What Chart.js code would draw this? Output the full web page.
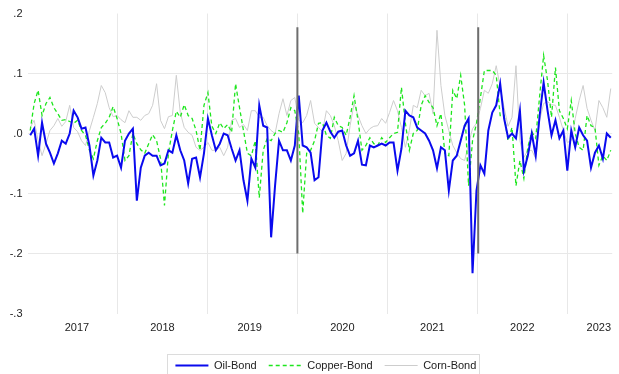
<!DOCTYPE html>
<html>
<head>
<meta charset="utf-8">
<script src="https://cdn.jsdelivr.net/npm/chart.js@4.4.1/dist/chart.umd.min.js"></script>
<style>
  html, body { margin: 0; padding: 0; background: #fff; }
  #chartContainer { width: 619px; height: 374px; }
</style>
</head>
<body>
<div id="chartContainer"><canvas id="myChart" width="619" height="374"></canvas></div>
<script>
// Series are sampled roughly every 16 days, starting early 2017 (decimal years)
const startYear = 2017.03;
const stepYears = 0.0439;

const oilBond = [
  -0.003, 0.008, -0.037, 0.018, -0.017, -0.032, -0.05, -0.033, -0.012, -0.017,
  0, 0.038, 0.027, 0.008, 0.01, -0.02, -0.07, -0.045, -0.007, -0.015,
  -0.015, -0.04, -0.037, -0.057, -0.012, 0, 0.008, -0.112, -0.057, -0.037,
  -0.032, -0.037, -0.037, -0.053, -0.05, -0.028, -0.032, -0.003, -0.028, -0.045,
  -0.083, -0.042, -0.04, -0.073, -0.033, 0.025, -0.003, -0.028, -0.017, 0,
  -0.003, -0.025, -0.045, -0.028, -0.078, -0.112, -0.042, -0.057, 0.047, 0.013,
  0.01, -0.173, -0.087, -0.012, -0.028, -0.028, -0.045, -0.02, 0.063, -0.02,
  -0.023, -0.032, -0.078, -0.073, 0.005, 0.018, 0.003, -0.007, 0.003, 0.005,
  -0.02, -0.037, -0.033, -0.012, -0.052, -0.053, -0.02, -0.023, -0.02, -0.017,
  -0.02, -0.015, -0.015, -0.062, -0.025, 0.038, 0.03, 0.027, 0.01, 0.005,
  0, -0.012, -0.028, -0.058, -0.023, -0.028, -0.095, -0.045, -0.037, -0.012,
  0.013, 0.025, -0.233, -0.095, -0.053, -0.067, 0.005, 0.035, 0.047, 0.083,
  0.025, -0.007, 0, -0.008, 0.038, -0.062, -0.037, 0, -0.037, 0.03,
  0.085, 0.038, -0.003, 0.022, -0.008, 0.005, -0.062, 0.005, -0.023, 0.01,
  -0.003, -0.012, -0.057, -0.032, -0.02, -0.042, 0, -0.007
];

const copperBond = [
  0.005, 0.05, 0.072, 0.03, 0.05, 0.06, 0.043, 0.033, 0.022, 0.023,
  0.02, 0.017, 0.022, 0.005, -0.003, -0.028, -0.042, -0.012, 0.01, 0.017,
  0.027, 0.045, 0.025, 0, -0.045, -0.037, 0, -0.017, -0.027, -0.033,
  -0.017, -0.002, -0.012, -0.042, -0.12, -0.033, 0.005, 0.037, 0.027, 0.048,
  0.03, 0.025, 0.005, -0.028, 0.047, 0.068, 0.012, 0, 0.018, 0.008,
  0.015, 0.002, 0.083, 0.043, 0.005, -0.033, -0.037, -0.012, -0.107, -0.028,
  -0.008, -0.012, 0, 0.005, 0.002, 0.018, 0.043, 0.038, 0, -0.133,
  -0.033, -0.028, -0.012, 0.017, 0.018, -0.003, -0.008, 0.027, 0.013, 0.01,
  -0.003, 0.027, 0.063, 0.022, -0.028, -0.02, -0.007, -0.017, -0.02, -0.007,
  -0.015, -0.007, 0, 0.002, 0.077, 0.017, -0.028, 0, 0.005, 0.047,
  0.063, 0.052, 0.043, 0.013, 0.033, -0.033, -0.037, 0.072, 0.058, 0.097,
  0.047, -0.087, -0.012, 0.017, 0.06, 0.105, 0.105, 0.105, 0.097, 0.03,
  0.03, -0.012, 0.01, -0.087, -0.045, -0.075, -0.023, 0.003, -0.008, 0.063,
  0.13, 0.088, 0.027, 0.11, 0.038, 0.025, 0.008, 0.055, 0, -0.023,
  -0.028, 0.03, 0.013, 0.01, -0.053, -0.037, -0.045, -0.028
];

const cornBond = [
  0.01, 0.022, -0.012, -0.037, -0.017, 0.005, 0.013, 0.025, 0.012, 0.02,
  0.047, 0.01, 0.003, -0.012, -0.02, 0.005, 0.027, 0.05, 0.08, 0.068,
  0.043, 0.028, 0.03, 0.023, 0.018, 0.038, 0.027, 0.027, 0.022, 0.03,
  0.033, 0.047, 0.083, 0.022, 0.008, 0.028, 0.03, 0.097, 0.035, 0.01,
  0.002, -0.003, -0.023, -0.028, -0.023, -0.015, -0.028, -0.028, -0.023, -0.037,
  -0.023, 0.022, 0.025, 0.01, 0.015, 0.005, 0.038, 0.038, 0.027, 0.027,
  0.013, 0.005, 0, 0.033, 0.058, 0.03, 0.055, 0.06, 0.022, 0.018,
  0.03, 0.055, 0.017, 0.01, 0.003, 0.038, 0.03, 0.013, -0.012, -0.045,
  -0.033, 0.013, 0.05, 0.03, 0.013, 0, 0.008, 0.012, 0.013, 0.025,
  0.017, 0.035, 0.055, 0.038, 0.01, -0.023, 0.005, 0.047, 0.043, 0.072,
  0.063, 0.067, 0.033, 0.172, 0.08, 0.03, 0.005, -0.02, -0.032, -0.042,
  -0.045, -0.017, 0.008, 0.017, 0.042, 0.072, 0.067, 0.083, 0.113, 0.077,
  0.043, 0.012, 0.027, 0.113, -0.012, -0.04, -0.028, -0.028, -0.042, 0.022,
  0.05, 0.053, 0.048, 0.047, 0.027, 0.005, -0.015, -0.012, 0.025, 0.055,
  0.08, 0.042, 0.022, 0.005, 0.055, 0.043, 0.027, 0.075
];

// x axis: labels sit mid-year, grid lines at the start of each year
const yearLabels = ['2017', '2018', '2019', '2020', '2021', '2022', '2023'];
const yearLabelPos = [2017.55, 2018.5, 2019.47, 2020.5, 2021.5, 2022.5, 2023.35];
const gridYears = [2018, 2019, 2020, 2021, 2022, 2023];

// vertical event markers
const eventDates = [2020.0, 2022.01];
const eventRange = [-0.2, 0.177];

const legendShift = 6;

function toPoints(values) {
  return values.map((v, i) => ({ x: startYear + i * stepYears, y: v }));
}

// Nudges the legend a bit right and draws the thin frame around it
const legendFrame = {
  id: 'legendFrame',
  afterUpdate(chart) {
    const lg = chart.legend;
    if (!lg) return;
    lg.left += legendShift;
    lg.right += legendShift;
    (lg.legendHitBoxes || []).forEach(b => { b.left += legendShift; });
  },
  afterDraw(chart) {
    const lg = chart.legend;
    const boxes = lg && lg.legendHitBoxes;
    if (!boxes || !boxes.length) return;
    const first = boxes[0];
    const last = boxes[boxes.length - 1];
    const ctx = chart.ctx;
    ctx.save();
    ctx.strokeStyle = '#dcdcdc';
    ctx.lineWidth = 1;
    const left = Math.round(first.left - 8) + 0.5;
    const top = Math.round(first.top - 6) + 0.5;
    const right = Math.round(last.left + last.width + 3) + 0.5;
    ctx.strokeRect(left, top, right - left, 40);
    ctx.restore();
  }
};

window.onload = function() {
  Chart.defaults.font.family = '"Liberation Sans", Arial, sans-serif';
  Chart.defaults.font.size = 11;
  Chart.defaults.color = '#222';

  const eventSets = eventDates.map(d => ({
    label: '',
    data: [{ x: d, y: eventRange[0] }, { x: d, y: eventRange[1] }],
    borderColor: '#6e6e6e',
    borderWidth: 2,
    pointRadius: 0
  }));

  const ctx = document.getElementById('myChart').getContext('2d');
  new Chart(ctx, {
    type: 'line',
    data: {
      datasets: eventSets.concat([
        {
          label: 'Oil-Bond',
          data: toPoints(oilBond),
          borderColor: '#0a0aee',
          borderWidth: 2,
          pointRadius: 0,
          tension: 0
        },
        {
          label: 'Copper-Bond',
          data: toPoints(copperBond),
          borderColor: '#1ee61e',
          borderWidth: 1.3,
          borderDash: [4, 3],
          pointRadius: 0,
          tension: 0
        },
        {
          label: 'Corn-Bond',
          data: toPoints(cornBond),
          borderColor: '#cdcdcd',
          borderWidth: 1,
          pointRadius: 0,
          tension: 0
        }
      ])
    },
    options: {
      responsive: false,
      animation: false,
      devicePixelRatio: 1,
      layout: { padding: { top: 13.5, bottom: -7, left: 0, right: 0 } },
      plugins: {
        tooltip: { enabled: false },
        legend: {
          position: 'bottom',
          fullSize: false,
          labels: {
            usePointStyle: true,
            pointStyle: 'line',
            pointStyleWidth: 33,
            padding: 12,
            color: '#222',
            font: { size: 11 },
            generateLabels(chart) {
              const items = Chart.defaults.plugins.legend.labels.generateLabels(chart);
              return items.filter(it => it.datasetIndex >= eventDates.length).map(it => {
                const ds = chart.data.datasets[it.datasetIndex];
                it.lineDash = ds.borderDash || [];
                it.lineWidth = ds.borderWidth;
                it.strokeStyle = ds.borderColor;
                it.pointStyle = 'line';
                return it;
              });
            }
          }
        }
      },
      scales: {
        x: {
          type: 'linear',
          min: 2017,
          max: 2023.5,
          afterFit(scale) { scale.height = 34.5; },
          afterBuildTicks(scale) {
            const vals = gridYears.concat(yearLabelPos).sort((a, b) => a - b);
            scale.ticks = vals.map(v => ({ value: v }));
          },
          border: { display: false },
          grid: {
            drawTicks: false,
            color: c => (c.tick && gridYears.includes(c.tick.value)) ? '#e8e8e8' : 'rgba(0,0,0,0)'
          },
          ticks: {
            autoSkip: false,
            maxRotation: 0,
            padding: 8,
            callback: v => {
              const i = yearLabelPos.indexOf(v);
              return i >= 0 ? yearLabels[i] : '';
            }
          }
        },
        y: {
          min: -0.3,
          max: 0.2,
          afterFit(scale) { scale.width = 27.5; },
          border: { display: false },
          grid: {
            drawTicks: false,
            color: c => {
              const v = c.tick ? c.tick.value : 0;
              return (v > 0.15 || v < -0.25) ? 'rgba(0,0,0,0)' : '#e8e8e8';
            }
          },
          ticks: {
            stepSize: 0.1,
            padding: 5,
            callback: v => {
              const n = Math.abs(v) < 1e-9 ? 0 : v;
              return n.toFixed(1).replace(/^(-?)0\./, '$1.');
            }
          }
        }
      }
    },
    plugins: [legendFrame]
  });
};
</script>
</body>
</html>
